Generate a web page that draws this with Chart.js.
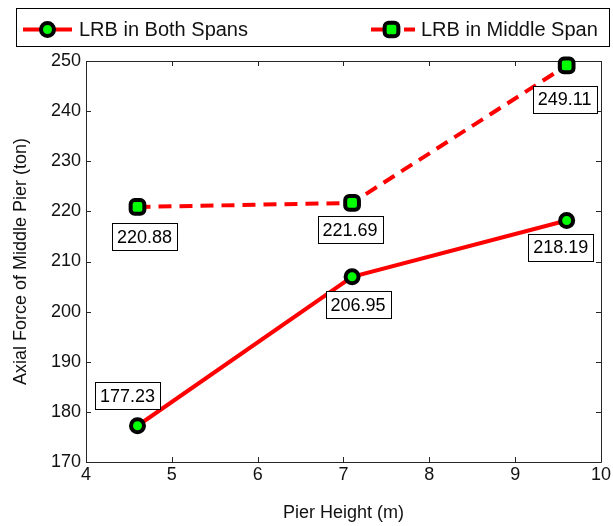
<!DOCTYPE html>
<html><head><meta charset="utf-8">
<script src="https://cdn.jsdelivr.net/npm/chart.js@4/dist/chart.umd.min.js"></script>
<style>html,body{margin:0;padding:0;background:#fff;overflow:hidden}#wrap{width:613px;height:526px}</style>
</head><body><div id="wrap"><canvas id="c" width="613" height="526"></canvas></div>
<script>
// ---- data ----
const pierHeights = [4.6, 7.1, 9.6];
const bothSpans = [177.23, 206.95, 218.19];
const middleSpan = [220.88, 221.69, 249.11];
const seriesNames = ['LRB in Both Spans', 'LRB in Middle Span'];
const xTitle = 'Pier Height (m)';
const yTitle = 'Axial Force of Middle Pier (ton)';
const xRange = [4, 10];
const yRange = [170, 250];
const xStep = 1;
const yStep = 10;

// ---- styles ----
const FONT = "'Liberation Sans', Arial, Helvetica, sans-serif";
const AXIS = '#262626';
const RED = '#ff0000';
const GREEN = '#00ff00';
// label box offsets relative to each point (dataset -> point)
const labelOffsets = [
  [[-10, -30], [6, 28], [-6, 27]],
  [[7, 30], [-2, 27], [-2, 34]]
];

const axesBox = {
  id: 'axesBox',
  beforeDatasetsDraw(chart) {
    const {ctx, chartArea: a, scales: {x, y}} = chart;
    ctx.save();
    ctx.strokeStyle = AXIS;
    ctx.lineWidth = 1;
    ctx.beginPath();
    ctx.rect(Math.round(a.left) + 0.5, Math.round(a.top) + 0.5, Math.round(a.right - a.left), Math.round(a.bottom - a.top));
    ctx.stroke();
    const L = 5;
    ctx.beginPath();
    x.ticks.forEach(t => {
      const px = Math.round(x.getPixelForValue(t.value)) + 0.5;
      ctx.moveTo(px, a.bottom); ctx.lineTo(px, a.bottom - L);
      ctx.moveTo(px, a.top); ctx.lineTo(px, a.top + L);
    });
    y.ticks.forEach(t => {
      const py = Math.round(y.getPixelForValue(t.value)) + 0.5;
      ctx.moveTo(a.left, py); ctx.lineTo(a.left + L, py);
      ctx.moveTo(a.right, py); ctx.lineTo(a.right - L, py);
    });
    ctx.stroke();
    ctx.restore();
  }
};

const valueLabels = {
  id: 'valueLabels',
  afterDatasetsDraw(chart) {
    const {ctx} = chart;
    ctx.save();
    ctx.font = '18px ' + FONT;
    ctx.textAlign = 'center';
    ctx.textBaseline = 'middle';
    chart.data.datasets.forEach((ds, i) => {
      const meta = chart.getDatasetMeta(i);
      meta.data.forEach((pt, j) => {
        const txt = ds.data[j].y.toFixed(2);
        const [dx, dy] = labelOffsets[i][j];
        const cx = pt.x + dx, cy = pt.y + dy;
        const w = ctx.measureText(txt).width + 10;
        const h = 27;
        const lx = Math.round(cx - w / 2) + 0.5, ly = Math.round(cy - h / 2) + 0.5;
        ctx.fillStyle = '#fff';
        ctx.fillRect(lx, ly, Math.round(w), h);
        ctx.strokeStyle = '#000';
        ctx.lineWidth = 1;
        ctx.strokeRect(lx, ly, Math.round(w), h);
        ctx.fillStyle = '#000';
        ctx.fillText(txt, cx, cy + 1);
      });
    });
    ctx.restore();
  }
};

const boxLegend = {
  id: 'boxLegend',
  afterDraw(chart) {
    const {ctx} = chart;
    ctx.save();
    ctx.strokeStyle = '#000';
    ctx.lineWidth = 1;
    ctx.strokeRect(16.5, 8.5, 593, 38);
    const yy = 29.5;
    const ds = chart.data.datasets;
    // item 1
    ctx.strokeStyle = ds[0].borderColor;
    ctx.lineWidth = 4;
    ctx.beginPath(); ctx.moveTo(23, yy); ctx.lineTo(72, yy); ctx.stroke();
    ctx.fillStyle = ds[0].pointBackgroundColor;
    ctx.strokeStyle = ds[0].pointBorderColor;
    ctx.lineWidth = ds[0].pointBorderWidth;
    Chart.helpers.drawPoint(ctx, {pointStyle: ds[0].pointStyle, radius: ds[0].pointRadius, rotation: 0, borderWidth: ds[0].pointBorderWidth}, 47.5, yy);
    // item 2
    ctx.strokeStyle = ds[1].borderColor;
    ctx.lineWidth = 4;
    ctx.beginPath(); ctx.moveTo(371, yy); ctx.lineTo(386, yy); ctx.moveTo(404, yy); ctx.lineTo(415, yy); ctx.stroke();
    ctx.fillStyle = ds[1].pointBackgroundColor;
    ctx.strokeStyle = ds[1].pointBorderColor;
    ctx.lineWidth = ds[1].pointBorderWidth;
    Chart.helpers.drawPoint(ctx, {pointStyle: ds[1].pointStyle, radius: ds[1].pointRadius, rotation: 0, borderWidth: ds[1].pointBorderWidth}, 391.5, yy);
    // text
    ctx.fillStyle = '#111';
    ctx.font = '20px ' + FONT;
    ctx.textBaseline = 'middle';
    ctx.textAlign = 'left';
    ctx.fillText(ds[0].label, 79, yy + 1);
    ctx.fillText(ds[1].label, 421, yy + 1);
    ctx.restore();
  }
};

new Chart(document.getElementById('c'), {
  type: 'line',
  data: {
    datasets: [
      {
        label: seriesNames[0],
        data: pierHeights.map((x, i) => ({x, y: bothSpans[i]})),
        borderColor: RED, borderWidth: 4, tension: 0,
        pointStyle: 'circle', pointRadius: 6.5, pointBorderWidth: 4,
        pointBackgroundColor: GREEN, pointBorderColor: '#000',
        clip: false, fill: false
      },
      {
        label: seriesNames[1],
        data: pierHeights.map((x, i) => ({x, y: middleSpan[i]})),
        borderColor: RED, borderWidth: 4, borderDash: [13, 8], tension: 0,
        pointStyle: 'rectRounded', pointRadius: 8, pointBorderWidth: 4,
        pointBackgroundColor: GREEN, pointBorderColor: '#000',
        clip: false, fill: false
      }
    ]
  },
  options: {
    responsive: false, animation: false, devicePixelRatio: 1,
    layout: {padding: {top: 61, right: 8, left: 0, bottom: 0}},
    plugins: {legend: {display: false}, tooltip: {enabled: false}},
    scales: {
      x: {
        type: 'linear', min: xRange[0], max: xRange[1],
        afterFit: s => { s.height = 64; },
        grid: {display: false, drawTicks: false},
        border: {display: false},
        ticks: {stepSize: xStep, color: '#111', padding: 2, font: {family: FONT, size: 18}, maxRotation: 0},
        title: {display: true, text: xTitle, color: '#111', font: {family: FONT, size: 18}, padding: {top: 0, bottom: 2}}
      },
      y: {
        type: 'linear', min: yRange[0], max: yRange[1],
        afterFit: s => { s.width = 86; },
        grid: {display: false, drawTicks: false},
        border: {display: false},
        ticks: {stepSize: yStep, color: '#111', padding: 5, font: {family: FONT, size: 18}},
        title: {display: true, text: yTitle, color: '#111', font: {family: FONT, size: 18}, padding: {top: 10, bottom: 0}}
      }
    }
  },
  plugins: [axesBox, valueLabels, boxLegend]
});
</script>
</body></html>
